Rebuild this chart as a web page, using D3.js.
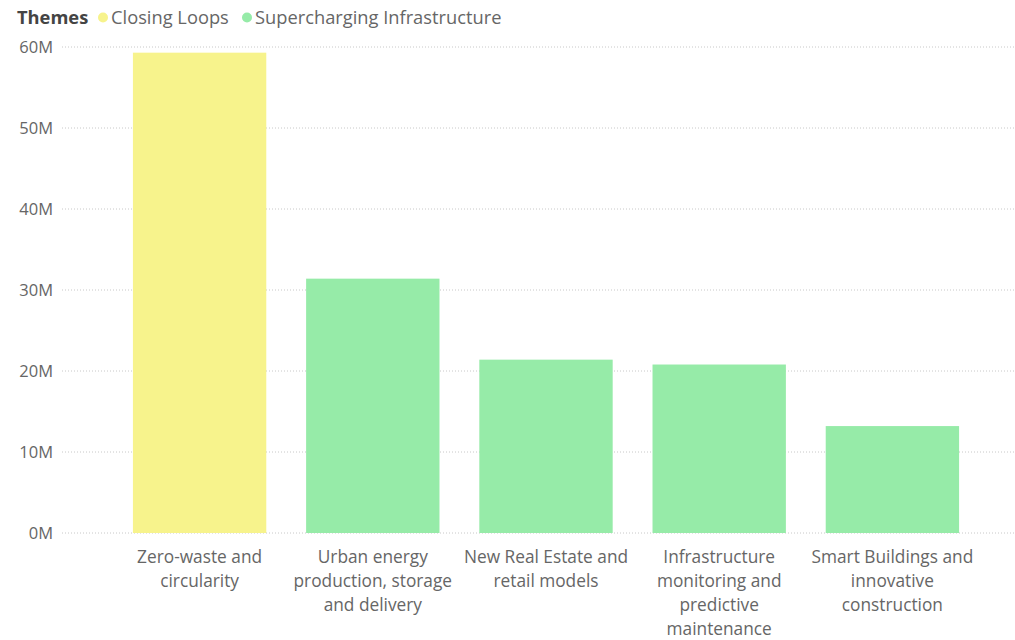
<!DOCTYPE html>
<html>
<head>
<meta charset="utf-8">
<script src="https://cdn.jsdelivr.net/npm/d3@7"></script>
<style>
  html, body { margin: 0; padding: 0; background: #fff; }
  svg { display: block; font-family: "Segoe UI", "Open Sans", "Noto Sans", sans-serif; }
</style>
</head>
<body>
<svg id="chart" width="1015" height="640"></svg>
<script>
// Funding by theme (values in millions)
const categories = [
  "Zero-waste and circularity",
  "Urban energy production, storage and delivery",
  "New Real Estate and retail models",
  "Infrastructure monitoring and predictive maintenance",
  "Smart Buildings and innovative construction"
];
const categoryLines = [
  ["Zero-waste and", "circularity"],
  ["Urban energy", "production, storage", "and delivery"],
  ["New Real Estate and", "retail models"],
  ["Infrastructure", "monitoring and", "predictive", "maintenance"],
  ["Smart Buildings and", "innovative", "construction"]
];
const values = [59.3, 31.4, 21.4, 20.8, 13.2];
const themes = ["Closing Loops", "Supercharging Infrastructure", "Supercharging Infrastructure", "Supercharging Infrastructure", "Supercharging Infrastructure"];
const themeNames = ["Closing Loops", "Supercharging Infrastructure"];
const themeColors = ["#F7F38C", "#96EBA8"];
const yTicks = [0, 10, 20, 30, 40, 50, 60];

const svg = d3.select("#chart");
const color = d3.scaleOrdinal().domain(themeNames).range(themeColors);

const x = d3.scaleBand().domain(categories).range([113, 979]).paddingInner(0.23).paddingOuter(0.115);
const y = d3.scaleLinear().domain([0, 60]).range([533, 47]);

// gridlines
svg.append("g").selectAll("line").data(yTicks).join("line")
  .attr("x1", 62).attr("x2", 1015)
  .attr("y1", d => y(d)).attr("y2", d => y(d))
  .attr("stroke", "#c8c8c8").attr("stroke-width", 1)
  .attr("stroke-dasharray", "1,2");

// y tick labels
svg.append("g").selectAll("text").data(yTicks).join("text")
  .attr("x", 53).attr("y", d => y(d))
  .attr("dy", "0.35em")
  .attr("text-anchor", "end")
  .attr("fill", "#666")
  .attr("font-size", 16.5)
  .text(d => d + "M");

// bars
svg.append("g").selectAll("rect").data(categories).join("rect")
  .attr("x", d => x(d))
  .attr("width", x.bandwidth())
  .attr("y", (d, i) => y(values[i]))
  .attr("height", (d, i) => y(0) - y(values[i]))
  .attr("fill", (d, i) => color(themes[i]));

// category labels
const cat = svg.append("g").selectAll("text").data(categories).join("text")
  .attr("text-anchor", "middle")
  .attr("fill", "#666")
  .attr("font-size", 17.3)
  .attr("x", d => x(d) + x.bandwidth() / 2)
  .attr("y", 563);
cat.selectAll("tspan").data((d, i) => categoryLines[i]).join("tspan")
  .attr("x", function() { return this.parentNode.getAttribute("x"); })
  .attr("dy", (d, j) => j === 0 ? 0 : 24)
  .text(d => d);

// legend
const legend = svg.append("g").attr("font-size", 18.3);
legend.append("text").attr("x", 17).attr("y", 24)
  .attr("font-weight", "bold").attr("fill", "#444").text("Themes");
const lx = [103, 247];
themeNames.forEach((t, i) => {
  legend.append("circle").attr("cx", lx[i]).attr("cy", 17.5).attr("r", 5).attr("fill", color(t));
  legend.append("text").attr("x", lx[i] + 8).attr("y", 24).attr("fill", "#666").text(t);
});
</script>
</body>
</html>
